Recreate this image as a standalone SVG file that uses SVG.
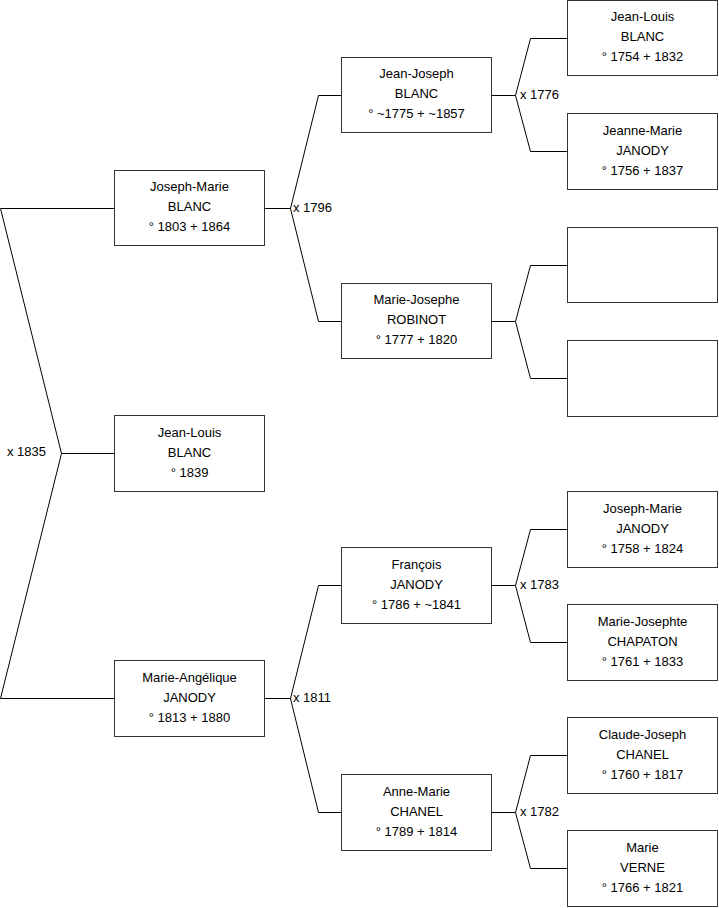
<svg xmlns="http://www.w3.org/2000/svg" width="719" height="908" viewBox="0 0 719 908">
<style>
.box{fill:#fff;stroke:#333;stroke-width:1}
.ln{fill:none;stroke:#000;stroke-width:1}
text{font-family:"Liberation Sans",Arial,sans-serif;font-size:13px;fill:#000}
.c{text-anchor:middle}
</style>
<rect width="719" height="908" fill="#fff"/>
<g id="connectors">
<path class="ln" d="M0.5,208.5 H114.5 M0.5,208.5 L61.5,453.5 L0.5,698.5 H114.5 M61.5,453.5 H114.5"/>
<path class="ln" d="M264.5,208.5 H290.5 M341.5,95.5 H318.5 L290.5,208.5 L318.5,321.5 H341.5"/>
<path class="ln" d="M264.5,698.5 H290.5 M341.5,585.5 H318.5 L290.5,698.5 L318.5,812.5 H341.5"/>
<path class="ln" d="M491.5,95.5 H515.5 M567.5,38.5 H530.5 L515.5,95.5 L530.5,151.5 H567.5"/>
<path class="ln" d="M491.5,321.5 H515.5 M567.5,265.5 H530.5 L515.5,321.5 L530.5,378.5 H567.5"/>
<path class="ln" d="M491.5,585.5 H515.5 M567.5,529.5 H530.5 L515.5,585.5 L530.5,642.5 H567.5"/>
<path class="ln" d="M491.5,812.5 H515.5 M567.5,755.5 H530.5 L515.5,812.5 L530.5,868.5 H567.5"/>
<text x="7" y="456">x 1835</text>
<text x="293" y="212">x 1796</text>
<text x="293" y="702">x 1811</text>
<text x="520" y="99">x 1776</text>
<text x="520" y="589">x 1783</text>
<text x="520" y="816">x 1782</text>
</g>
<g id="n-joseph-marie-blanc">
<rect class="box" x="114.5" y="170.5" width="150" height="75"/>
<text class="c" x="189.5" y="191">Joseph-Marie</text>
<text class="c" x="189.5" y="211">BLANC</text>
<text class="c" x="189.5" y="231">° 1803 + 1864</text>
</g>
<g id="n-jean-louis-blanc-1839">
<rect class="box" x="114.5" y="415.5" width="150" height="76"/>
<text class="c" x="189.5" y="437">Jean-Louis</text>
<text class="c" x="189.5" y="457">BLANC</text>
<text class="c" x="189.5" y="477">° 1839</text>
</g>
<g id="n-marie-angelique-janody">
<rect class="box" x="114.5" y="660.5" width="150" height="76"/>
<text class="c" x="189.5" y="682">Marie-Angélique</text>
<text class="c" x="189.5" y="702">JANODY</text>
<text class="c" x="189.5" y="722">° 1813 + 1880</text>
</g>
<g id="n-jean-joseph-blanc">
<rect class="box" x="341.5" y="57.5" width="150" height="75"/>
<text class="c" x="416.5" y="78">Jean-Joseph</text>
<text class="c" x="416.5" y="98">BLANC</text>
<text class="c" x="416.5" y="118">° ~1775 + ~1857</text>
</g>
<g id="n-marie-josephe-robinot">
<rect class="box" x="341.5" y="283.5" width="150" height="75"/>
<text class="c" x="416.5" y="304">Marie-Josephe</text>
<text class="c" x="416.5" y="324">ROBINOT</text>
<text class="c" x="416.5" y="344">° 1777 + 1820</text>
</g>
<g id="n-francois-janody">
<rect class="box" x="341.5" y="547.5" width="150" height="76"/>
<text class="c" x="416.5" y="569">François</text>
<text class="c" x="416.5" y="589">JANODY</text>
<text class="c" x="416.5" y="609">° 1786 + ~1841</text>
</g>
<g id="n-anne-marie-chanel">
<rect class="box" x="341.5" y="774.5" width="150" height="76"/>
<text class="c" x="416.5" y="796">Anne-Marie</text>
<text class="c" x="416.5" y="816">CHANEL</text>
<text class="c" x="416.5" y="836">° 1789 + 1814</text>
</g>
<g id="n-jean-louis-blanc-1754">
<rect class="box" x="567.5" y="0.5" width="150" height="75"/>
<text class="c" x="642.5" y="21">Jean-Louis</text>
<text class="c" x="642.5" y="41">BLANC</text>
<text class="c" x="642.5" y="61">° 1754 + 1832</text>
</g>
<g id="n-jeanne-marie-janody">
<rect class="box" x="567.5" y="113.5" width="150" height="76"/>
<text class="c" x="642.5" y="135">Jeanne-Marie</text>
<text class="c" x="642.5" y="155">JANODY</text>
<text class="c" x="642.5" y="175">° 1756 + 1837</text>
</g>
<g id="n-empty-1">
<rect class="box" x="567.5" y="227.5" width="150" height="75"/>
</g>
<g id="n-empty-2">
<rect class="box" x="567.5" y="340.5" width="150" height="76"/>
</g>
<g id="n-joseph-marie-janody">
<rect class="box" x="567.5" y="491.5" width="150" height="76"/>
<text class="c" x="642.5" y="513">Joseph-Marie</text>
<text class="c" x="642.5" y="533">JANODY</text>
<text class="c" x="642.5" y="553">° 1758 + 1824</text>
</g>
<g id="n-marie-josephte-chapaton">
<rect class="box" x="567.5" y="604.5" width="150" height="76"/>
<text class="c" x="642.5" y="626">Marie-Josephte</text>
<text class="c" x="642.5" y="646">CHAPATON</text>
<text class="c" x="642.5" y="666">° 1761 + 1833</text>
</g>
<g id="n-claude-joseph-chanel">
<rect class="box" x="567.5" y="717.5" width="150" height="76"/>
<text class="c" x="642.5" y="739">Claude-Joseph</text>
<text class="c" x="642.5" y="759">CHANEL</text>
<text class="c" x="642.5" y="779">° 1760 + 1817</text>
</g>
<g id="n-marie-verne">
<rect class="box" x="567.5" y="830.5" width="150" height="76"/>
<text class="c" x="642.5" y="852">Marie</text>
<text class="c" x="642.5" y="872">VERNE</text>
<text class="c" x="642.5" y="892">° 1766 + 1821</text>
</g>
</svg>
